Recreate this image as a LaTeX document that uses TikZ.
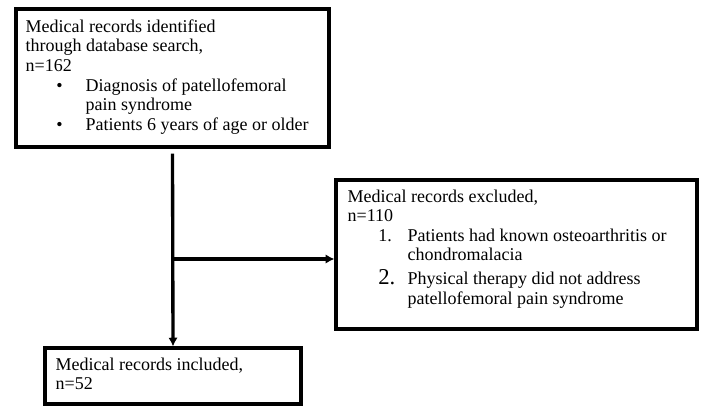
\documentclass[tikz,border=0pt]{standalone}
\usepackage{fontspec}
\setmainfont{Liberation Serif}
\usepackage{tikz}
\usetikzlibrary{arrows.meta,calc}
\definecolor{figline}{RGB}{0,0,0}
\tikzset{
  boxb/.style ={draw=figline, line width=2.4pt, inner sep=0pt},
  txt/.style  ={font=\fontsize{13.5}{14.7}\selectfont, align=left, inner sep=0pt, anchor=north west},
  ptr/.style  ={draw=figline, line width=2.5pt, -{Latex[length=6.5pt,width=7pt]}},
}

\begin{document}
\begin{tikzpicture}[x=0.75pt,y=-0.75pt]
  \useasboundingbox (0,0) rectangle (709,415);
  % boxes
  \node[boxb,minimum width=234.75pt,minimum height=103.5pt] (ident) at (172.5,78) {};
  \node[boxb,minimum width=270.75pt,minimum height=111.75pt] (excl) at (516.5,254.5) {};
  \node[boxb,minimum width=192pt,minimum height=42pt] (incl) at (173,376) {};
  % texts
  \node[txt] (identtxt) at ([shift={(11,12)}]ident.north west)
    {Medical records identified\\
     through database search,\\
     n=162\\
     \hspace*{23pt}\makebox[22pt][l]{\textbullet}Diagnosis of patellofemoral\\
     \hspace*{45pt}pain syndrome\\
     \hspace*{23pt}\makebox[22pt][l]{\textbullet}Patients 6 years of age or older};
  \node[txt] (excltxt) at ([shift={(13,11)}]excl.north west)
    {Medical records excluded,\\
     n=110\\
     \hspace*{23pt}\makebox[22pt][l]{1.}Patients had known osteoarthritis or\\
     \hspace*{45pt}chondromalacia\\[3pt]
     \hspace*{23pt}\makebox[22pt][l]{\fontsize{17}{14.7}\selectfont 2.}Physical therapy did not address\\
     \hspace*{45pt}patellofemoral pain syndrome};
  \node[txt] (incltxt) at ([shift={(12,11)}]incl.north west)
    {Medical records included,\\
     n=52};
  % connectors
  \coordinate (split) at (ident.south |- 0,259);
  \draw[ptr] ([yshift=-3.75pt]ident.south) -- (incl.north);
  \draw[ptr] (split) -- (split -| excl.west);
\end{tikzpicture}
\end{document}
